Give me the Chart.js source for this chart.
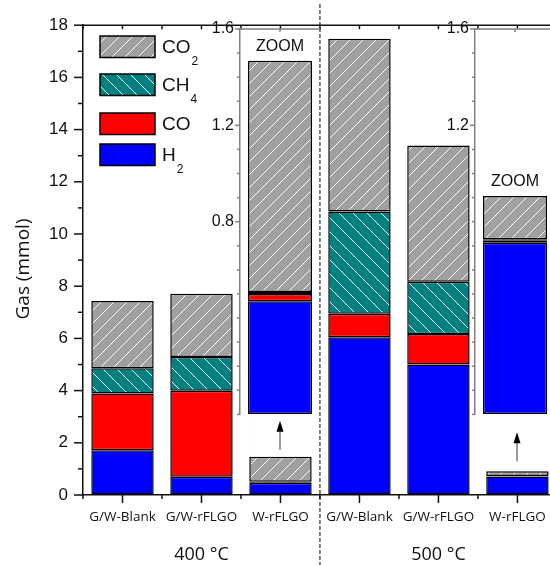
<!DOCTYPE html>
<html lang="en">
<head>
<meta charset="UTF-8">
<title>Gas yield</title>
<script src="https://cdn.jsdelivr.net/npm/chart.js@4"></script>
<style>
  html, body { margin: 0; padding: 0; background: #fff; overflow: hidden; }
  .wrap { position: relative; width: 550px; height: 565px; overflow: hidden; }
  canvas { position: absolute; top: 0; }
  #mainChart { left: 0; }
  #zoom1 { left: 190px; }
  #zoom2 { left: 425px; }
</style>
</head>
<body>
<div class="wrap">
  <canvas id="mainChart" width="560" height="565"></canvas>
  <canvas id="zoom1" width="140" height="430"></canvas>
  <canvas id="zoom2" width="140" height="430"></canvas>
</div>
<script>
// data (mmol)
const categories = ['G/W-Blank', 'G/W-rFLGO', 'W-rFLGO', 'G/W-Blank', 'G/W-rFLGO', 'W-rFLGO'];
const temperatures = ['400 °C', '500 °C'];
const h2  = [1.71, 0.70, 0.47, 6.04, 5.00, 0.713];
const co  = [2.18, 3.29, 0.03, 0.90, 1.17, 0.008];
const ch4 = [0.97, 1.30, 0.008, 3.92, 2.00, 0.006];
const co2 = [2.57, 2.42, 0.96, 6.62, 5.22, 0.18];
const zoomIndex = [2, 5];
const zoom1Labels = [1.6, 1.2, 0.8];
const zoom2Labels = [1.6, 1.2];

const axisColor = '#111';
const textColor = '#111';
const numFont = '"Liberation Sans", Arial, sans-serif';

function hatch(bg, dir, size) {
    const c = document.createElement('canvas');
    c.width = size; c.height = size;
    const g = c.getContext('2d');
    g.fillStyle = bg;
    g.fillRect(0, 0, size, size);
    g.strokeStyle = 'rgba(255,255,255,0.95)';
    g.lineWidth = 1;
    g.beginPath();
    for (let k = -1; k <= 1; k++) {
        if (dir === '/') {
            g.moveTo(k * size, size);
            g.lineTo(k * size + size, 0);
        } else {
            g.moveTo(k * size, 0);
            g.lineTo(k * size + size, size);
        }
    }
    g.stroke();
    return g.createPattern(c, 'repeat');
}

const series = [
    { name: 'H2',  data: h2,  fill: '#0000ff' },
    { name: 'CO',  data: co,  fill: '#ff0000' },
    { name: 'CH4', data: ch4, fill: hatch('#008080', '\\', 14) },
    { name: 'CO2', data: co2, fill: hatch('#a0a0a0', '/', 13) }
];

function line(ctx, x1, y1, x2, y2) {
    ctx.beginPath();
    ctx.moveTo(x1, y1);
    ctx.lineTo(x2, y2);
    ctx.stroke();
}

// text with trailing digits as subscript
function chemLabel(ctx, name, x, y) {
    const main = name.replace(/\d+$/, '');
    const sub = name.slice(main.length);
    ctx.font = '19px ' + numFont;
    ctx.textAlign = 'left';
    ctx.textBaseline = 'middle';
    ctx.fillText(main, x, y);
    if (sub) {
        const w = ctx.measureText(main).width;
        ctx.font = '12px ' + numFont;
        ctx.fillText(sub, x + w + 1, y + 14);
    }
}

const mainDecor = {
    id: 'mainDecor',
    afterDraw(chart) {
        const { ctx, chartArea: a, scales: { x, y } } = chart;
        ctx.save();
        ctx.strokeStyle = axisColor;
        ctx.lineWidth = 1.5;
        line(ctx, a.left, a.top, a.right, a.top);

        // y ticks, major every 2
        y.ticks.forEach(t => {
            const p = y.getPixelForValue(t.value);
            const len = t.value % 2 === 0 ? 9 : 5;
            line(ctx, a.left - len, p, a.left, p);
        });

        // x ticks at centres, minor at boundaries
        categories.forEach((c, i) => {
            const p = x.getPixelForValue(i);
            line(ctx, p, a.bottom, p, a.bottom + 8);
            line(ctx, p, a.top, p, a.top + 4);
        });
        for (let i = 0; i <= categories.length; i++) {
            const p = x.getPixelForValue(i - 0.5);
            line(ctx, p, a.bottom, p, a.bottom + 4);
            line(ctx, p, a.top, p, a.top + 4);
        }

        // divider between temperatures
        const d = x.getPixelForValue(2.5);
        ctx.lineWidth = 1;
        ctx.strokeStyle = '#000';
        ctx.setLineDash([4, 2]);
        line(ctx, d, 4, d, 565);
        ctx.setLineDash([]);

        // temperature labels under middle bar of each group
        ctx.fillStyle = textColor;
        ctx.font = '18px "Open Sans", sans-serif';
        ctx.textAlign = 'center';
        ctx.textBaseline = 'middle';
        temperatures.forEach((t, g) => {
            ctx.fillText(t, x.getPixelForValue(g * 3 + 1), 555);
        });

        // y title
        ctx.save();
        ctx.translate(24, 269);
        ctx.rotate(-Math.PI / 2);
        ctx.font = '19px "Open Sans", sans-serif';
        ctx.fillText('Gas (mmol)', 0, 0);
        ctx.restore();

        // arrows from small bars up to the zoom panels
        const top = chart.getDatasetMeta(series.length - 1);
        const gaps = [7, 10];
        zoomIndex.forEach((idx, k) => {
            const el = top.data[idx];
            const cx = Math.round(el.x);
            const yb = el.y - gaps[k];
            const yt = yb - 29;
            ctx.strokeStyle = '#777';
            ctx.lineWidth = 1.5;
            line(ctx, cx, yb, cx, yt + 9);
            ctx.fillStyle = '#000';
            ctx.beginPath();
            ctx.moveTo(cx, yt);
            ctx.lineTo(cx - 3.5, yt + 11);
            ctx.lineTo(cx + 3.5, yt + 11);
            ctx.closePath();
            ctx.fill();
        });

        // legend
        const legendTops = [36, 74, 113, 144];
        const order = series.slice().reverse();
        order.forEach((s, i) => {
            const by = legendTops[i];
            ctx.fillStyle = s.fill;
            ctx.fillRect(100, by, 55, 21.5);
            ctx.strokeStyle = '#000';
            ctx.lineWidth = 1.5;
            ctx.strokeRect(100, by, 55, 21.5);
            ctx.fillStyle = textColor;
            chemLabel(ctx, s.name, 162, by + 12);
        });
        ctx.restore();
    }
};

new Chart(document.getElementById('mainChart'), {
    type: 'bar',
    data: {
        labels: categories,
        datasets: series.map(s => ({
            label: s.name,
            data: s.data,
            backgroundColor: s.fill,
            borderColor: '#000',
            borderWidth: 1.5,
            borderSkipped: false,
            barPercentage: 0.79,
            categoryPercentage: 1
        }))
    },
    options: {
        responsive: false,
        animation: false,
        devicePixelRatio: 1,
        layout: { padding: { top: 21, right: 3, left: 0, bottom: 0 } },
        plugins: { legend: { display: false }, tooltip: { enabled: false } },
        scales: {
            x: {
                stacked: true,
                afterFit: s => { s.height = 70; },
                grid: { drawOnChartArea: false, drawTicks: false },
                border: { color: axisColor, width: 1.5 },
                ticks: {
                    autoSkip: false,
                    maxRotation: 0,
                    padding: 14,
                    color: textColor,
                    font: { family: '"Open Sans", sans-serif', size: 13.5 }
                }
            },
            y: {
                stacked: true,
                min: 0,
                max: 18,
                afterFit: s => { s.width = 83; },
                grid: { drawOnChartArea: false, drawTicks: false },
                border: { color: axisColor, width: 1.5 },
                ticks: {
                    stepSize: 1,
                    autoSkip: false,
                    padding: 15,
                    color: textColor,
                    font: { family: numFont, size: 17 },
                    callback: v => (v % 2 === 0 ? v : '')
                }
            }
        }
    },
    plugins: [mainDecor]
});

const zoomDecor = {
    id: 'zoomDecor',
    afterDraw(chart) {
        const { ctx, chartArea: a, scales: { x, y } } = chart;
        const shown = chart.options.plugins.zoomDecor.labels;
        ctx.save();
        ctx.strokeStyle = '#808080';
        ctx.lineWidth = 1.5;
        line(ctx, a.left, a.top, a.right, a.top);
        y.ticks.forEach(t => {
            const p = y.getPixelForValue(t.value);
            const major = shown.some(l => Math.abs(l - t.value) < 1e-6);
            line(ctx, a.left - (major ? 5 : 3), p, a.left, p);
        });
        const cx = x.getPixelForValue(0);
        line(ctx, cx, a.top, cx, a.top + 3);

        const el = chart.getDatasetMeta(series.length - 1).data[0];
        ctx.fillStyle = textColor;
        ctx.font = '16px ' + numFont;
        ctx.textAlign = 'center';
        ctx.textBaseline = 'middle';
        ctx.fillText('ZOOM', el.x, el.y - 14);
        ctx.restore();
    }
};

function zoomChart(id, idx, shown) {
    return new Chart(document.getElementById(id), {
        type: 'bar',
        data: {
            labels: [categories[idx]],
            datasets: series.map(s => ({
                label: s.name,
                data: [s.data[idx]],
                backgroundColor: s.fill,
                borderColor: '#000',
                borderWidth: 1.5,
                borderSkipped: false,
                barPercentage: 0.8,
                categoryPercentage: 1
            }))
        },
        options: {
            responsive: false,
            animation: false,
            devicePixelRatio: 1,
            layout: { padding: { top: 29, right: 10, left: 0, bottom: 15 } },
            plugins: {
                legend: { display: false },
                tooltip: { enabled: false },
                zoomDecor: { labels: shown }
            },
            scales: {
                x: { stacked: true, display: false },
                y: {
                    stacked: true,
                    min: 0,
                    max: 1.6,
                    afterFit: s => { s.width = 50; },
                    grid: { drawOnChartArea: false, drawTicks: false },
                    border: { color: '#808080', width: 1.5 },
                    ticks: {
                        stepSize: 0.1,
                        autoSkip: false,
                        padding: 6,
                        color: textColor,
                        font: { family: numFont, size: 16 },
                        callback: v => (shown.some(l => Math.abs(l - v) < 1e-6) ? v.toFixed(1) : '')
                    }
                }
            }
        },
        plugins: [zoomDecor]
    });
}

zoomChart('zoom1', zoomIndex[0], zoom1Labels);
zoomChart('zoom2', zoomIndex[1], zoom2Labels);
</script>
</body>
</html>
